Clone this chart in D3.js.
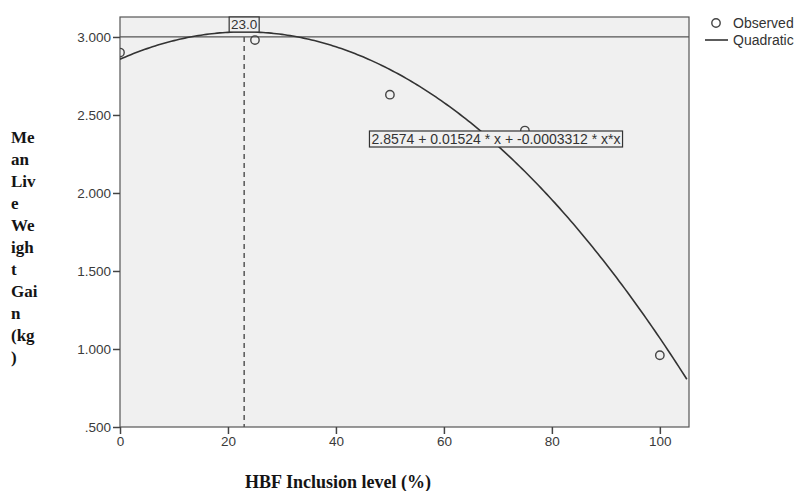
<!DOCTYPE html>
<html>
<head>
<meta charset="utf-8">
<script src="https://cdn.jsdelivr.net/npm/d3@7"></script>
<style>
  body { margin: 0; background: #fff; }
  svg { display: block; }
  .tick text { font-family: "Liberation Sans", Arial, sans-serif; font-size: 13.5px; fill: #3a3a3a; }
</style>
</head>
<body>
<svg id="chart" width="796" height="491"></svg>
<script>
'use strict';

// observed means (inclusion level %, live weight gain kg)
var levels = [0, 25, 50, 75, 100];
var gains = [2.90, 2.98, 2.63, 2.40, 0.96];

// quadratic fit shown on the chart: b0 + b1*x + b2*x*x
var coef = [2.8574, 0.01524, -0.0003312];
var peakX = 23.0;
var refY = 3.0;

var xTicks = [0, 20, 40, 60, 80, 100];
var yTicks = [0.5, 1.0, 1.5, 2.0, 2.5, 3.0];
var yTitleLines = ['Me', 'an', 'Liv', 'e', 'We', 'igh', 't', 'Gai', 'n', '(kg', ')'];

var svg = d3.select('#chart');
// plot box edges (px)
var pLeft = 120, pRight = 689, pTop = 17, pBottom = 427;

var x = d3.scaleLinear().domain([0, 105.4]).range([pLeft, pRight]);
var y = d3.scaleLinear().domain([0.5, 3.128]).range([pBottom, pTop]);

var sans = '"Liberation Sans", Arial, sans-serif';
var serif = '"Liberation Serif", "Times New Roman", serif';

// plot background
svg.append('rect')
    .attr('x', pLeft).attr('y', pTop)
    .attr('width', pRight - pLeft).attr('height', pBottom - pTop)
    .attr('fill', '#f0f0f0')
    .attr('stroke', '#555').attr('stroke-width', 1.2);

var clip = svg.append('clipPath').attr('id', 'plotclip');
clip.append('rect').attr('x', pLeft).attr('y', pTop)
    .attr('width', pRight - pLeft).attr('height', pBottom - pTop);

var plot = svg.append('g').attr('clip-path', 'url(#plotclip)');

// reference line at 3.000
plot.append('line')
    .attr('x1', pLeft).attr('x2', pRight)
    .attr('y1', y(refY)).attr('y2', y(refY))
    .attr('stroke', '#555').attr('stroke-width', 1.2);

// dashed line at the curve peak
plot.append('line')
    .attr('x1', x(peakX)).attr('x2', x(peakX))
    .attr('y1', y(refY)).attr('y2', pBottom)
    .attr('stroke', '#555').attr('stroke-width', 1.5)
    .attr('stroke-dasharray', '5,4');

// fitted curve
var xs = d3.range(0, 105.5, 0.5);
var line = d3.line()
    .x(function(d) { return x(d); })
    .y(function(d) { return y(coef[0] + coef[1] * d + coef[2] * d * d); });
plot.append('path')
    .datum(xs)
    .attr('d', line)
    .attr('fill', 'none')
    .attr('stroke', '#333').attr('stroke-width', 1.6);

// observed points
plot.selectAll('circle.obs')
    .data(levels)
    .enter().append('circle')
    .attr('class', 'obs')
    .attr('cx', function(d) { return x(d); })
    .attr('cy', function(d, i) { return y(gains[i]); })
    .attr('r', 4.2)
    .attr('fill', 'none')
    .attr('stroke', '#444').attr('stroke-width', 1.4);

// axes
var yAxis = d3.axisLeft(y).tickValues(yTicks).tickSize(7).tickPadding(2)
    .tickFormat(function(d) { return d3.format('.3f')(d).replace(/^0/, ''); });
var gy = svg.append('g').attr('transform', 'translate(' + pLeft + ',0)').call(yAxis);
gy.select('.domain').remove();
gy.selectAll('.tick line').attr('stroke', '#444').attr('stroke-width', 1.5);

var xAxis = d3.axisBottom(x).tickValues(xTicks).tickSize(7).tickPadding(2);
var gx = svg.append('g').attr('transform', 'translate(0,' + pBottom + ')').call(xAxis);
gx.select('.domain').remove();
gx.selectAll('.tick line').attr('stroke', '#444').attr('stroke-width', 1.5);

// peak label box
var peakG = svg.append('g');
peakG.append('rect')
    .attr('x', x(peakX) - 15).attr('y', pTop)
    .attr('width', 30).attr('height', 15)
    .attr('fill', '#f0f0f0').attr('stroke', '#333').attr('stroke-width', 1.2);
peakG.append('text')
    .attr('x', x(peakX)).attr('y', pTop + 12)
    .attr('text-anchor', 'middle')
    .style('font-family', sans)
    .style('font-size', '13.5px').style('fill', '#333')
    .text(d3.format('.1f')(peakX));

// equation label
var eqText = coef[0] + ' + ' + coef[1] + ' * x + ' + coef[2] + ' * x*x';
var eqG = svg.append('g');
var eqRect = eqG.append('rect');
var eq = eqG.append('text')
    .attr('x', 496).attr('y', 144)
    .attr('text-anchor', 'middle')
    .style('font-family', sans)
    .style('font-size', '14px').style('fill', '#333')
    .text(eqText);
var bb = eq.node().getBBox();
eqRect.attr('x', bb.x - 2).attr('y', 131)
    .attr('width', bb.width + 4).attr('height', 16)
    .attr('fill', '#f0f0f0').attr('stroke', '#333').attr('stroke-width', 1.2);

// legend
var leg = svg.append('g');
leg.append('circle').attr('cx', 716).attr('cy', 23).attr('r', 4.2)
    .attr('fill', 'none').attr('stroke', '#444').attr('stroke-width', 1.4);
leg.append('line').attr('x1', 705).attr('x2', 728).attr('y1', 40).attr('y2', 40)
    .attr('stroke', '#333').attr('stroke-width', 1.6);
leg.selectAll('text')
    .data(['Observed', 'Quadratic'])
    .enter().append('text')
    .attr('x', 733)
    .attr('y', function(d, i) { return 28 + i * 17; })
    .style('font-family', sans)
    .style('font-size', '14px').style('fill', '#333')
    .text(function(d) { return d; });

// axis titles
svg.append('g').selectAll('text')
    .data(yTitleLines)
    .enter().append('text')
    .attr('x', 11)
    .attr('y', function(d, i) { return 143 + i * 22; })
    .style('font-family', serif)
    .style('font-weight', 'bold').style('font-size', '17px').style('fill', '#141414')
    .text(function(d) { return d; });

svg.append('text')
    .attr('x', 338).attr('y', 488)
    .attr('text-anchor', 'middle')
    .style('font-family', serif)
    .style('font-weight', 'bold').style('font-size', '18px').style('fill', '#141414')
    .text('HBF Inclusion level (%)');
</script>
</body>
</html>
